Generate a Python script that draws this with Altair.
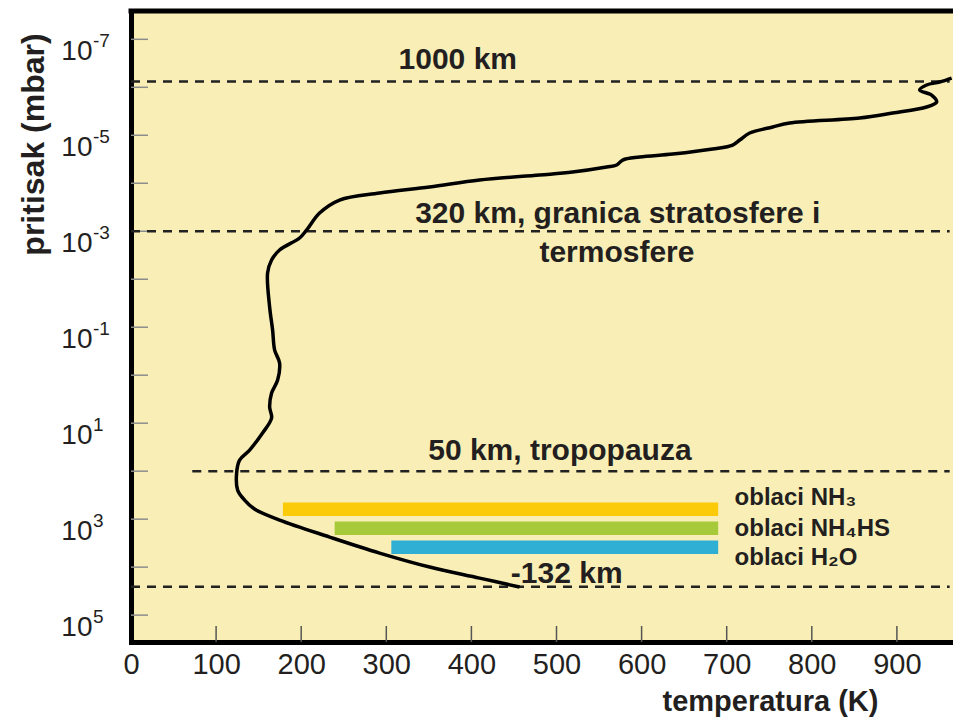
import altair as alt
import pandas as pd

# ---------------- data ----------------
# temperature profile (K) vs log10 pressure (mbar), from deep atmosphere upward
curve_T = [456.6, 409.6, 350.9, 292.1, 233.4, 174.6, 145.2, 133.5, 125.3, 124.1,
           127.6, 139.4, 154.6, 165.2, 162.9, 165.2, 172.3, 174.6, 168.8, 166.4,
           162.9, 160.5, 165.2, 174.6, 198.1, 206.3, 221.6, 245.1, 292.1, 350.9,
           409.6, 480.1, 518.9, 558.9, 570.7, 577.8, 597.7, 636.5, 683.5, 707.0,
           715.3, 727.0, 754.0, 774.0, 856.2, 895.0, 934.9, 946.7, 940.8, 926.7,
           934.9, 950.2, 964.3]
curve_logP = [4.415, 4.228, 3.998, 3.707, 3.373, 3.019, 2.79, 2.602, 2.394, 2.039,
              1.768, 1.56, 1.205, 0.893, 0.664, 0.372, 0.101, -0.253, -0.524, -0.941,
              -1.421, -2.129, -2.4, -2.609, -2.859, -3.025, -3.38, -3.651, -3.797, -3.922,
              -4.068, -4.172, -4.234, -4.338, -4.38, -4.484, -4.547, -4.609, -4.714, -4.797,
              -4.901, -5.047, -5.172, -5.256, -5.36, -5.464, -5.589, -5.693, -5.839, -5.943,
              -6.048, -6.11, -6.193]

# dashed reference levels
level_logP = [-6.12, -3.0, 2.0, 4.41]
level_T_start = [0, 0, 72, 0]
level_T_end = [962, 962, 962, 962]

# cloud layers
cloud_names = ["oblaci NH₃", "oblaci NH₄HS", "oblaci H₂O"]
cloud_T_start = [178.5, 239.3, 305.9]
cloud_T_end = [690, 690, 690]
cloud_logP = [2.796, 3.192, 3.588]
cloud_colors = ["#FBCB0A", "#A6CA39", "#30AFD4"]
cloud_label_T = [709.3, 709.3, 709.3]
cloud_label_logP = [2.706, 3.352, 3.956]

# annotation texts
note_text = ["1000 km", "320 km, granica stratosfere i", "termosfere",
             "50 km, tropopauza", "-132 km"]
note_T = [384, 572, 571, 504, 512]
note_logP = [-6.381, -3.171, -2.359, 1.768, 4.332]

# axis ticks
x_ticks = [0, 100, 200, 300, 400, 500, 600, 700, 800, 900]
y_label_exps = [-7, -5, -3, -1, 1, 3, 5]
y_minor_exps = list(range(-7, 6))

# ---------------- tables ----------------
curve_df = pd.DataFrame({"T": curve_T, "P": [10 ** v for v in curve_logP],
                         "i": list(range(len(curve_T)))})
level_df = pd.DataFrame({"T": level_T_start, "T2": level_T_end,
                         "P": [10 ** v for v in level_logP]})
cloud_df = pd.DataFrame({"name": cloud_names, "T": cloud_T_start, "T2": cloud_T_end,
                         "P": [10 ** v for v in cloud_logP]})
cloud_lab_df = pd.DataFrame({"name": cloud_names, "T": cloud_label_T,
                             "P": [10 ** v for v in cloud_label_logP]})
note_df = pd.DataFrame({"text": note_text, "T": note_T,
                        "P": [10 ** v for v in note_logP]})
ytick_df = pd.DataFrame({"P": [10.0 ** e for e in y_minor_exps]})
xtick_df = pd.DataFrame({"T": x_ticks[1:]})
exp_df = pd.DataFrame({"P": [10.0 ** e for e in y_label_exps],
                       "e": [str(e) for e in y_label_exps]})
border_df = pd.DataFrame({"k": [0]})

# ---------------- styling ----------------
W, H = 822, 631
FONT = "Liberation Sans, Arial, Helvetica, sans-serif"
TXT = "#231F20"

xs = alt.Scale(domain=[0, 822 / 0.851], nice=False, zero=False)
ys = alt.Scale(type="log", domain=[10 ** -7.59, 10 ** 5.56], reverse=True, nice=False)

xaxis = alt.Axis(values=x_ticks, ticks=False, grid=False, domain=True,
                 domainWidth=5, domainColor="black", domainCap="square",
                 labelFont=FONT, labelFontSize=29, labelColor=TXT, labelPadding=8,
                 labelFlush=False, labelOverlap=False,
                 title="temperatura (K)", titleFont=FONT, titleFontWeight="bold",
                 titleFontSize=29, titleColor=TXT, titleX=639, titleY=68,
                 titleAlign="center", titleBaseline="alphabetic", titleAnchor="start")
yaxis = alt.Axis(values=[10.0 ** e for e in y_label_exps], labelExpr="'10'",
                 ticks=False, grid=False, domain=True, domainWidth=5,
                 domainColor="black", domainCap="square",
                 labelFont=FONT, labelFontSize=28,
                 labelColor=TXT, labelPadding=39, labelBaseline="alphabetic",
                 labelOffset=20, labelFlush=False, labelOverlap=False, labelBound=False,
                 title="pritisak (mbar)", titleFont=FONT, titleFontWeight="bold",
                 titleFontSize=32, titleColor=TXT, titleAngle=270, titleX=-88,
                 titleY=133, titleAlign="center", titleBaseline="alphabetic",
                 titleAnchor="start")


def X(field="T"):
    return alt.X(f"{field}:Q", scale=xs, axis=xaxis)


def Y(field="P"):
    return alt.Y(f"{field}:Q", scale=ys, axis=yaxis)


yticks = alt.Chart(ytick_df).mark_rule(color="#8C8C8C", strokeWidth=1.5).encode(
    y=Y(), x=alt.value(0), x2=alt.value(17))
xticks = alt.Chart(xtick_df).mark_rule(color="#555555", strokeWidth=1.5).encode(
    x=X(), y=alt.value(H), y2=alt.value(H - 16))

levels = alt.Chart(level_df).mark_rule(color="#222222", strokeWidth=2.5,
                                        strokeDash=[9, 7]).encode(
    x=X(), x2="T2:Q", y=Y())

clouds = alt.Chart(cloud_df).mark_rule(strokeWidth=13.5, strokeCap="butt").encode(
    x=X(), x2="T2:Q", y=Y(),
    color=alt.Color("name:N", scale=alt.Scale(domain=cloud_names, range=cloud_colors),
                    legend=None))

curve = alt.Chart(curve_df).mark_line(color="black", strokeWidth=3.5,
                                      interpolate="catmull-rom").encode(
    x=X(), y=Y(), order="i:Q")

notes = alt.Chart(note_df).mark_text(font=FONT, fontWeight="bold", fontSize=30,
                                     color=TXT, align="center",
                                     baseline="alphabetic").encode(
    x=X(), y=Y(), text="text:N")

cloud_labels = alt.Chart(cloud_lab_df).mark_text(font=FONT, fontWeight="bold",
                                                 fontSize=24, color=TXT, align="left",
                                                 baseline="alphabetic").encode(
    x=X(), y=Y(), text="name:N")

exps = alt.Chart(exp_df).mark_text(font=FONT, fontSize=19, color=TXT, align="left",
                                   baseline="alphabetic", dy=8).encode(
    y=Y(), x=alt.value(-38), text="e:N")

top_border = alt.Chart(border_df).mark_rule(color="black", strokeWidth=5,
                                            strokeCap="square").encode(
    x=alt.value(0), x2=alt.value(W), y=alt.value(0))

chart = alt.layer(yticks, xticks, levels, clouds, curve, notes, cloud_labels, exps,
                  top_border).properties(
    width=W, height=H,
    autosize=alt.AutoSizeParams(type="none"),
    padding={"left": 123, "top": 3, "right": 0, "bottom": 75},
).configure_view(fill="#F9EFB6", strokeWidth=0)

chart.save("out.html", embed_options={"renderer": "svg", "actions": False})
